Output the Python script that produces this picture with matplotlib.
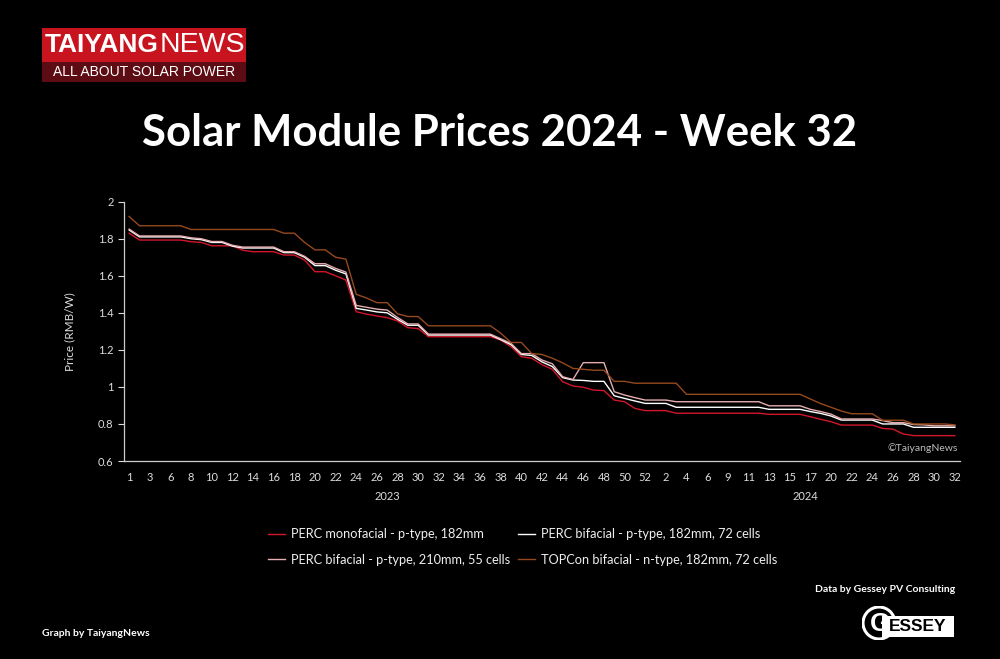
import matplotlib.pyplot as plt
from matplotlib.patches import Rectangle, Circle

plt.rcParams['font.family'] = ['Lato', 'DejaVu Sans']

# week labels (two years, some weeks missing)
weeks_2023 = [1, 2, 3, 5, 6, 7, 8, 9, 10, 11, 12, 13, 14, 15, 16, 17, 18, 19, 20, 21,
              22, 23, 24, 25, 26, 27, 28, 29, 30, 31, 32, 33, 34, 35, 36, 37, 38, 39, 40, 41,
              42, 43, 44, 45, 46, 47, 48, 49, 50, 51, 52]
weeks_2024 = [1, 2, 3, 4, 5, 6, 7, 9, 10, 11, 12, 13, 14, 15, 16, 17, 18, 20, 21, 22,
              23, 24, 25, 26, 27, 28, 29, 30, 31, 32]
week_labels = [str(w) for w in weeks_2023 + weeks_2024]

# prices in RMB/W
perc_mono = [1.83, 1.793, 1.793, 1.793, 1.793, 1.793, 1.784, 1.78, 1.762, 1.762,
             1.762, 1.738, 1.73, 1.73, 1.73, 1.712, 1.712, 1.685, 1.622, 1.622,
             1.60, 1.577, 1.406, 1.393, 1.383, 1.374, 1.356, 1.32, 1.315, 1.271,
             1.271, 1.271, 1.271, 1.271, 1.271, 1.271, 1.253, 1.217, 1.163, 1.155,
             1.12, 1.095, 1.028, 1.005, 0.998, 0.983, 0.98, 0.929, 0.92, 0.884,
             0.872, 0.872, 0.872, 0.858, 0.858, 0.858, 0.858, 0.858, 0.858, 0.858,
             0.858, 0.858, 0.852, 0.852, 0.852, 0.852, 0.839, 0.825, 0.812, 0.794,
             0.794, 0.794, 0.794, 0.776, 0.772, 0.746, 0.737, 0.737, 0.737, 0.737, 0.737]
perc_bi_182 = [1.847, 1.81, 1.81, 1.81, 1.81, 1.81, 1.80, 1.795, 1.78, 1.78,
               1.76, 1.75, 1.75, 1.75, 1.75, 1.725, 1.725, 1.70, 1.655, 1.655,
               1.63, 1.61, 1.424, 1.415, 1.405, 1.40, 1.365, 1.333, 1.333, 1.28,
               1.28, 1.28, 1.28, 1.28, 1.28, 1.28, 1.255, 1.228, 1.175, 1.17,
               1.135, 1.11, 1.05, 1.037, 1.035, 1.03, 1.03, 0.952, 0.938, 0.924,
               0.911, 0.911, 0.911, 0.89, 0.89, 0.89, 0.89, 0.89, 0.89, 0.89,
               0.89, 0.89, 0.879, 0.879, 0.879, 0.879, 0.867, 0.857, 0.843, 0.821,
               0.821, 0.821, 0.821, 0.80, 0.80, 0.80, 0.782, 0.782, 0.782, 0.782, 0.782]
perc_bi_210 = [1.852, 1.815, 1.815, 1.815, 1.815, 1.815, 1.805, 1.80, 1.785, 1.785,
               1.765, 1.755, 1.755, 1.755, 1.755, 1.73, 1.73, 1.705, 1.665, 1.665,
               1.64, 1.62, 1.44, 1.43, 1.42, 1.415, 1.375, 1.34, 1.34, 1.285,
               1.285, 1.285, 1.285, 1.285, 1.285, 1.285, 1.26, 1.235, 1.18, 1.18,
               1.145, 1.125, 1.055, 1.04, 1.131, 1.131, 1.131, 0.974, 0.956, 0.942,
               0.929, 0.929, 0.929, 0.92, 0.92, 0.92, 0.92, 0.92, 0.92, 0.92,
               0.92, 0.92, 0.898, 0.898, 0.898, 0.898, 0.879, 0.867, 0.853, 0.827,
               0.827, 0.827, 0.827, 0.818, 0.807, 0.807, 0.797, 0.795, 0.79, 0.79, 0.79]
topcon = [1.92, 1.87, 1.87, 1.87, 1.87, 1.87, 1.85, 1.85, 1.85, 1.85,
          1.85, 1.85, 1.85, 1.85, 1.85, 1.83, 1.83, 1.78, 1.74, 1.74,
          1.70, 1.69, 1.50, 1.48, 1.455, 1.455, 1.395, 1.38, 1.38, 1.33,
          1.33, 1.33, 1.33, 1.33, 1.33, 1.33, 1.29, 1.24, 1.24, 1.18,
          1.175, 1.155, 1.13, 1.10, 1.095, 1.09, 1.09, 1.03, 1.03, 1.02,
          1.02, 1.02, 1.02, 1.02, 0.96, 0.96, 0.96, 0.96, 0.96, 0.96,
          0.96, 0.96, 0.96, 0.96, 0.96, 0.96, 0.935, 0.91, 0.89, 0.87,
          0.855, 0.855, 0.855, 0.82, 0.82, 0.82, 0.80, 0.80, 0.80, 0.80, 0.795]

series_names = ['PERC monofacial - p-type, 182mm',
                'PERC bifacial - p-type, 182mm, 72 cells',
                'PERC bifacial - p-type, 210mm, 55 cells',
                'TOPCon bifacial - n-type, 182mm, 72 cells']
series_colors = ['#d3162a', '#ffffff', '#e6aeb0', '#96491c']

x = list(range(len(week_labels)))

fig = plt.figure(figsize=(10, 6.59), dpi=100, facecolor='black')
ax = fig.add_axes([0.124, 1 - 461 / 659, 0.836, (461 - 201.7) / 659])
ax.set_facecolor('black')

for vals, name, col in zip([perc_mono, perc_bi_182, perc_bi_210, topcon], series_names, series_colors):
    ax.plot(x, vals, color=col, linewidth=1.0, label=name)

ax.set_xlim(-0.5, len(x) - 0.5)
ax.set_ylim(0.6, 2)
ax.set_yticks([0.6, 0.8, 1, 1.2, 1.4, 1.6, 1.8, 2])
ax.set_yticklabels(['0.6', '0.8', '1', '1.2', '1.4', '1.6', '1.8', '2'])
ax.set_xticks(x[::2])
ax.set_xticklabels(week_labels[::2])
ax.tick_params(axis='x', length=0, pad=8, colors='#dddddd', labelsize=8)
ax.tick_params(axis='y', length=4, colors='#dddddd', labelsize=8)
for s in ['top', 'right']:
    ax.spines[s].set_visible(False)
for s in ['left', 'bottom']:
    ax.spines[s].set_color('#cccccc')
    ax.spines[s].set_linewidth(0.9)
ax.set_ylabel('Price (RMB/W)', color='#dddddd', fontsize=8.5, labelpad=16)

# year labels under the week labels
n23 = len(weeks_2023)
ax.text((n23 - 1) / 2, -0.135, '2023', transform=ax.get_xaxis_transform(),
        ha='center', va='center', color='#dddddd', fontsize=8)
ax.text(n23 + (len(weeks_2024) - 1) / 2, -0.135, '2024', transform=ax.get_xaxis_transform(),
        ha='center', va='center', color='#dddddd', fontsize=8)
ax.text(0.997, 0.05, '©TaiyangNews', transform=ax.transAxes, ha='right', va='center',
        color='#bbbbbb', fontsize=7.5)

# legend: red, pink in first column, white, brown in second
h = ax.get_lines()
fig.legend([h[0], h[2], h[1], h[3]], [series_names[0], series_names[2], series_names[1], series_names[3]],
           ncol=2, loc='center', bbox_to_anchor=(0.523, 1 - 547 / 659), frameon=False,
           fontsize=9.2, labelcolor='#eeeeee', handlelength=1.3, handletextpad=0.5,
           columnspacing=0.6, labelspacing=1.05)

# title
fig.text(0.5, 1 - 133 / 659, 'Solar Module Prices 2024 - Week 32', ha='center', va='center',
         color='white', fontsize=31.5, fontweight='bold')

# TaiyangNews logo
W, H = 1000, 659
fig.add_artist(Rectangle((42 / W, 1 - 62 / H), 204 / W, 34 / H, transform=fig.transFigure,
                         facecolor='#c8141e', edgecolor='none'))
fig.add_artist(Rectangle((42 / W, 1 - 82 / H), 204 / W, 20 / H, transform=fig.transFigure,
                         facecolor='#5c0c12', edgecolor='none'))
fig.text(45 / W, 1 - 45 / H, 'TAIYANG', color='white', fontsize=19, fontweight='bold',
         family=['Liberation Sans'], ha='left', va='center')
fig.text(160 / W, 1 - 45 / H, 'NEWS', color='white', fontsize=20.5,
         family=['Liberation Sans'], ha='left', va='center')
fig.text(144 / W, 1 - 72.5 / H, 'ALL ABOUT SOLAR POWER', color='white', fontsize=10,
         family=['Liberation Sans'], ha='center', va='center')

# credits
fig.text(955 / W, 1 - 590 / H, 'Data by Gessey PV Consulting', color='white', fontsize=7.5,
         fontweight='bold', ha='right', va='center')
fig.text(42 / W, 1 - 634 / H, 'Graph by TaiyangNews', color='white', fontsize=7.5,
         fontweight='bold', ha='left', va='center')

# Gessey logo
fig.add_artist(Rectangle((882 / W, 1 - 637 / H), 72 / W, 21 / H, transform=fig.transFigure,
                         facecolor='white', edgecolor='none'))
logo_ax = fig.add_axes([862 / W, 1 - 640 / H, 34 / W, 34 / H])
logo_ax.set_xlim(0, 1)
logo_ax.set_ylim(0, 1)
logo_ax.axis('off')
logo_ax.add_patch(Circle((0.5, 0.5), 0.47, facecolor='black', edgecolor='white', linewidth=2.2))
logo_ax.text(0.52, 0.47, 'G', color='white', fontsize=19, fontweight='bold',
             family=['Liberation Sans'], ha='center', va='center')
fig.text(918 / W, 1 - 626.5 / H, 'ESSEY', color='black', fontsize=12.5, fontweight='bold',
         family=['Liberation Sans'], ha='center', va='center')

fig.savefig('out.png', dpi=100, facecolor='black')
